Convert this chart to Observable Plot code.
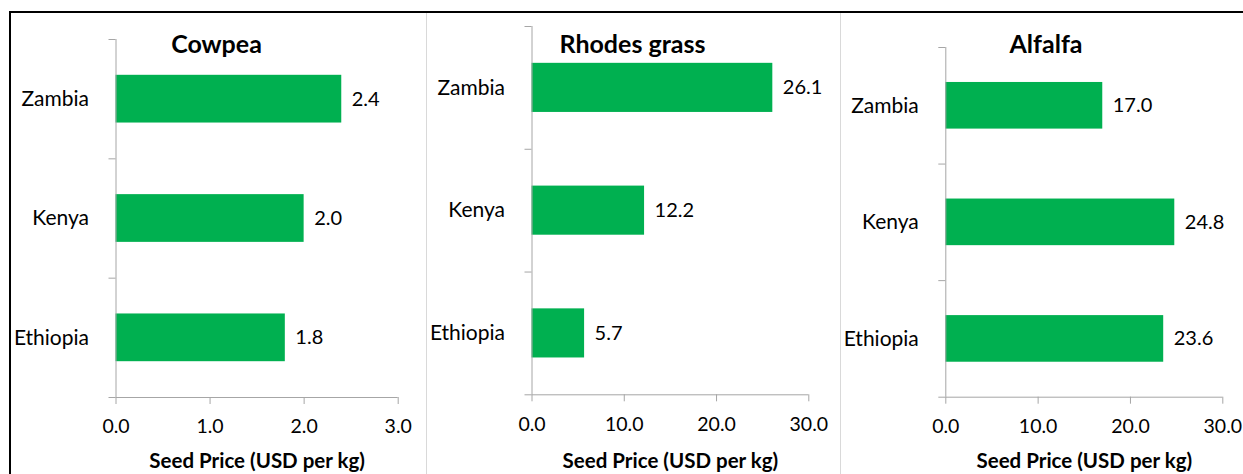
<!DOCTYPE html>
<html>
<head>
<meta charset="utf-8">
<script src="https://cdn.jsdelivr.net/npm/d3@7"></script>
<script src="https://cdn.jsdelivr.net/npm/@observablehq/plot@0.6"></script>
<style>
  html, body { margin: 0; padding: 0; background: #fff; overflow: hidden; }
  #page { position: relative; width: 1243px; height: 474px; background: #fff; font-family: Lato, sans-serif; }
  #page svg { position: absolute; left: 0; top: 0; }
  .line { position: absolute; }
  .title { position: absolute; text-align: center; font: bold 25px Lato, sans-serif; color: #000; line-height: 28px; }
</style>
</head>
<body>
<div id="page"></div>
<script>
// Seed prices (USD per kg) by country, one small chart per crop
const countries = ["Zambia", "Kenya", "Ethiopia"];
const crops = ["Cowpea", "Rhodes grass", "Alfalfa"];
const cowpea = [2.4, 2.0, 1.8];
const rhodesGrass = [26.1, 12.2, 5.7];
const alfalfa = [17.0, 24.8, 23.6];
const cowpeaTicks = [0, 1, 2, 3];
const grassTicks = [0, 10, 20, 30];
const axisTitle = "Seed Price (USD per kg)";

const W = 1243, H = 474;
const green = "#00b050";
const axisGray = "#a6a6a6";
const page = document.getElementById("page");

// Each panel: chart-area box (for the title) and plot-area box (for the axes)
const panels = [
  {crop: crops[0], values: cowpea, ticks: cowpeaTicks, area: [10, 423], plot: {left: 115.5, right: 397.7, top: 39, bottom: 397}},
  {crop: crops[1], values: rhodesGrass, ticks: grassTicks, area: [426, 839], plot: {left: 531.5, right: 808.3, top: 26, bottom: 394.3}},
  {crop: crops[2], values: alfalfa, ticks: grassTicks, area: [840, 1252], plot: {left: 945.3, right: 1222.3, top: 47, bottom: 396.7}}
];

// Frame lines: black rule along the top and left, light separators between the charts
function addLine(style) {
  const d = document.createElement("div");
  d.className = "line";
  Object.assign(d.style, style);
  page.appendChild(d);
}
addLine({left: "9px", top: "11px", width: (W - 9) + "px", height: "2px", background: "#000"});
addLine({left: "9px", top: "11px", width: "2px", height: (H - 11) + "px", background: "#000"});
addLine({left: "426px", top: "13px", width: "1px", height: (H - 13) + "px", background: "#d9d9d9"});
addLine({left: "840px", top: "13px", width: "1px", height: (H - 13) + "px", background: "#d9d9d9"});

for (const p of panels) {
  const rows = countries.map((country, i) => ({country, i, value: p.values[i]}));
  const n = countries.length;
  const xmax = p.ticks[p.ticks.length - 1];
  const fmt = d3.format(".1f");

  const chart = Plot.plot({
    width: W,
    height: H,
    marginLeft: p.plot.left,
    marginRight: W - p.plot.right,
    marginTop: p.plot.top,
    marginBottom: H - p.plot.bottom,
    style: {background: "transparent", fontFamily: "Lato, sans-serif", color: "#000", overflow: "visible"},
    x: {domain: [0, xmax]},
    y: {domain: [0, n], reverse: true},
    marks: [
      // bars
      Plot.rect(rows, {x1: 0, x2: "value", y1: d => d.i + 0.3, y2: d => d.i + 0.7, fill: green}),
      // category axis line and boundary ticks
      Plot.ruleX([0], {stroke: axisGray, strokeWidth: 1}),
      Plot.axisY({ticks: d3.range(n + 1), tickSize: 7, tickFormat: () => "", stroke: axisGray, strokeOpacity: 1, label: null}),
      // value axis line, ticks and labels
      Plot.ruleY([n], {stroke: axisGray, strokeWidth: 1}),
      Plot.axisX({ticks: p.ticks, tickSize: 7, tickPadding: 15, tickFormat: fmt, fontSize: 19.5, stroke: axisGray, strokeOpacity: 1, fill: "#000", label: null}),
      // category labels
      Plot.text(rows, {x: 0, y: d => d.i + 0.5, text: "country", textAnchor: "end", dx: -27, fontSize: 21, fill: "#000"}),
      // value labels
      Plot.text(rows, {x: "value", y: d => d.i + 0.5, text: d => fmt(d.value), textAnchor: "start", dx: 10, fontSize: 20, fill: "#000"}),
      // axis title
      Plot.text([axisTitle], {frameAnchor: "bottom", lineAnchor: "middle", dy: 461 - p.plot.bottom, fontSize: 20.5, fontWeight: "bold", fill: "#000"})
    ]
  });
  page.appendChild(chart);

  const t = document.createElement("div");
  t.className = "title";
  t.textContent = p.crop;
  t.style.left = p.area[0] + "px";
  t.style.width = (p.area[1] - p.area[0]) + "px";
  t.style.top = "29px";
  page.appendChild(t);
}
</script>
</body>
</html>
